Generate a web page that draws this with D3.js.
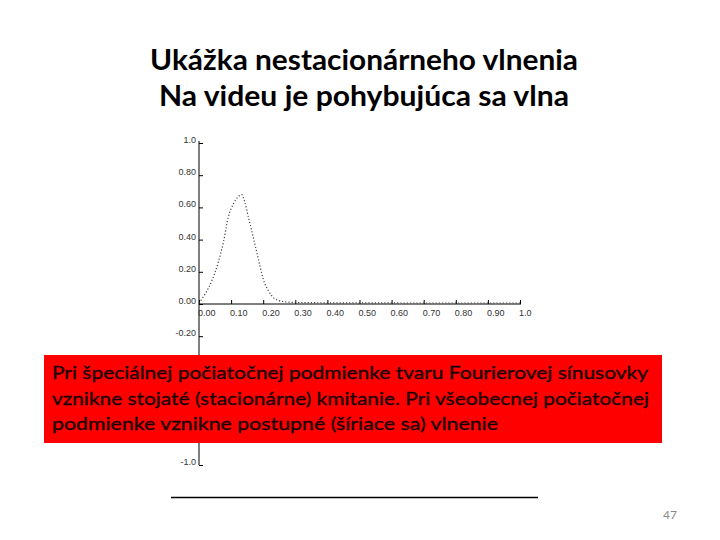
<!DOCTYPE html>
<html>
<head>
<meta charset="utf-8">
<script src="https://cdn.jsdelivr.net/npm/d3@7"></script>
<style>
  html, body { margin: 0; padding: 0; background: #fff; }
  svg { display: block; }
</style>
</head>
<body>
<svg id="chart" width="720" height="540"></svg>
<script>
// ---- data ----
const titleLines = ["Ukážka nestacionárneho vlnenia", "Na videu je pohybujúca sa vlna"];
const noteLines = [
  "Pri špeciálnej počiatočnej podmienke tvaru Fourierovej sínusovky",
  "vznikne stojaté (stacionárne) kmitanie. Pri všeobecnej počiatočnej",
  "podmienke vznikne postupné (šíriace sa) vlnenie"
];
const pageNumber = "47";
const xTicks = [0, 0.1, 0.2, 0.3, 0.4, 0.5, 0.6, 0.7, 0.8, 0.9, 1.0];
const xTickLabels = ["0.00", "0.10", "0.20", "0.30", "0.40", "0.50", "0.60", "0.70", "0.80", "0.90", "1.0"];
const yTicks = [1.0, 0.8, 0.6, 0.4, 0.2, 0, -0.2, -0.4, -0.6, -0.8, -1.0];
// labels visible in the picture (the ones under the red note box are hidden)
const yLabelTicks = [1.0, 0.8, 0.6, 0.4, 0.2, 0, -0.2, -1.0];
const yTickLabels = ["1.0", "0.80", "0.60", "0.40", "0.20", "0.00", "-0.20", "-1.0"];
const waveX = [0, 0.019, 0.040, 0.060, 0.076, 0.091, 0.107, 0.122, 0.133, 0.143, 0.154, 0.169, 0.185, 0.200, 0.216, 0.237, 0.258, 0.289, 0.35, 0.45, 0.55, 0.65, 0.75, 0.85, 0.95, 1.0];
const waveY = [0, 0.056, 0.138, 0.253, 0.377, 0.532, 0.615, 0.660, 0.673, 0.625, 0.532, 0.408, 0.273, 0.149, 0.077, 0.025, 0.011, 0.004, 0.002, 0.001, 0.001, 0, 0, 0, 0, 0];

// ---- drawing ----
const svg = d3.select("#chart");
const x = d3.scaleLinear().domain([0, 1]).range([199, 520]);
const y = d3.scaleLinear().domain([-1, 1]).range([465, 143]);

// title
svg.selectAll("text.title").data(titleLines).enter().append("text")
  .attr("class", "title")
  .attr("x", 364).attr("y", (d, i) => 70 + i * 36)
  .attr("text-anchor", "middle")
  .attr("font-family", "Lato, 'Open Sans', sans-serif")
  .attr("font-weight", "bold")
  .attr("font-size", 28)
  .attr("textLength", (d, i) => i === 0 ? 428 : 410)
  .attr("lengthAdjust", "spacingAndGlyphs")
  .attr("fill", "#000")
  .text(d => d);

// axes
const g = svg.append("g");
const lblFont = "'Liberation Sans', Arial, sans-serif";

// y axis
const yAxis = d3.axisRight(y).tickValues(yTicks).tickSize(4).tickFormat("");
const yg = g.append("g").attr("transform", `translate(${x(0)},0)`).call(yAxis);
yg.select(".domain").attr("stroke", "#000").attr("d", `M0,${y(1) - 2}V${y(-1)}`);
yg.selectAll(".tick line").attr("stroke", "#000");
g.selectAll("text.ylab").data(yLabelTicks).enter().append("text")
  .attr("class", "ylab")
  .attr("x", x(0) - 3).attr("y", d => y(d))
  .attr("text-anchor", "end")
  .attr("font-family", lblFont).attr("font-size", 9)
  .attr("fill", "#333")
  .text((d, i) => yTickLabels[i]);

// x axis
const xAxis = d3.axisTop(x).tickValues(xTicks).tickSize(4).tickFormat("");
const xg = g.append("g").attr("transform", `translate(0,${y(0)})`).call(xAxis);
xg.select(".domain").attr("stroke", "#000").attr("d", `M${x(0)},0H${x(1) + 1}`);
xg.selectAll(".tick line").attr("stroke", "#000");
g.selectAll("text.xlab").data(xTicks).enter().append("text")
  .attr("class", "xlab")
  .attr("x", d => x(d) - 1).attr("y", y(0) + 12)
  .attr("text-anchor", "start")
  .attr("font-family", lblFont).attr("font-size", 9)
  .attr("fill", "#333")
  .text((d, i) => xTickLabels[i]);

// wave
const pts = waveX.map((v, i) => [v, waveY[i]]);
const line = d3.line().x(d => x(d[0])).y(d => y(d[1]) - 1).curve(d3.curveMonotoneX);
g.append("path").datum(pts)
  .attr("d", line)
  .attr("fill", "none")
  .attr("stroke", "#444")
  .attr("stroke-width", 1.2)
  .attr("stroke-dasharray", "1.2,2");

// red note box
svg.append("rect")
  .attr("x", 44).attr("y", 355).attr("width", 618).attr("height", 88)
  .attr("fill", "#ff0000");
svg.selectAll("text.note").data(noteLines).enter().append("text")
  .attr("class", "note")
  .attr("x", 52).attr("y", (d, i) => 379 + i * 25.5)
  .attr("font-family", "Lato, 'Open Sans', sans-serif")
  .attr("font-size", 18)
  .attr("textLength", (d, i) => [596, 597, 446][i])
  .attr("lengthAdjust", "spacingAndGlyphs")
  .attr("fill", "#1a0000")
  .attr("stroke", "#1a0000")
  .attr("stroke-width", 0.35)
  .text(d => d);

// bottom rule
svg.append("line")
  .attr("x1", 171).attr("x2", 538).attr("y1", 497.5).attr("y2", 497.5)
  .attr("stroke", "#000").attr("stroke-width", 1.5);

// page number
svg.append("text")
  .attr("x", 670).attr("y", 519)
  .attr("text-anchor", "middle")
  .attr("font-family", "Lato, 'Open Sans', sans-serif")
  .attr("font-size", 12)
  .attr("fill", "#8a8a8a")
  .text(pageNumber);
</script>
</body>
</html>
